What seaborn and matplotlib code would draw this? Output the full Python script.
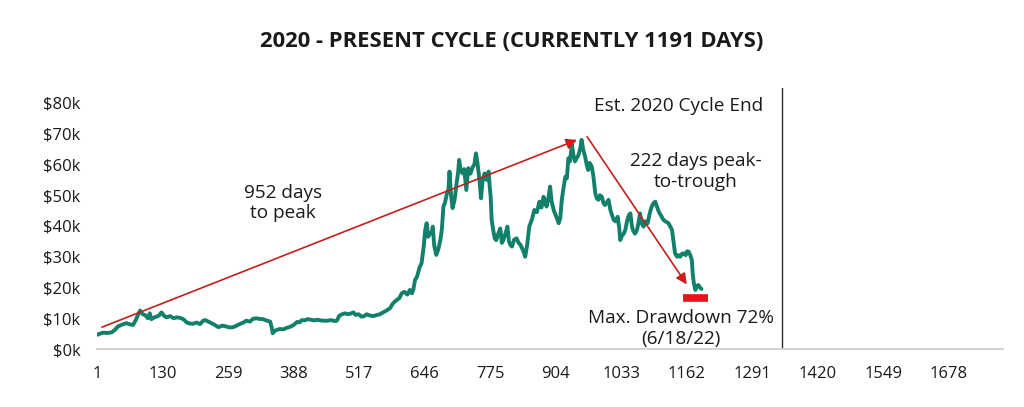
import matplotlib
matplotlib.use("Agg")
import matplotlib.pyplot as plt
import numpy as np
import pandas as pd
import seaborn as sns

# day index since cycle start and BTC price in $k
days = [1, 7, 13, 20, 30, 36, 42, 50, 59, 66, 72, 78, 83, 86, 91, 96, 101, 105, 108, 113,
        118, 123, 128, 133, 138, 145, 152, 158, 165, 171, 178, 184, 190, 197, 204, 210, 214, 219, 224, 232,
        240, 248, 256, 262, 269, 276, 283, 289, 295, 302, 308, 315, 320, 328, 334, 342, 345, 347, 351, 355,
        361, 368, 375, 381, 388, 395, 400, 404, 410, 415, 420, 428, 435, 441, 447, 455, 462, 468, 473, 478,
        482, 489, 495, 500, 506, 510, 516, 522, 527, 532, 538, 545, 551, 558, 564, 571, 578, 584, 590, 596,
        601, 606, 612, 617, 621, 624, 627, 631, 636, 640, 644, 647, 650, 653, 657, 660, 662, 665, 669, 673,
        677, 680, 683, 686, 690, 693, 695, 698, 701, 705, 709, 712, 714, 717, 721, 724, 728, 732, 736, 741,
        744, 747, 750, 754, 757, 760, 764, 768, 772, 774, 776, 778, 781, 784, 787, 791, 795, 798, 801, 805,
        809, 812, 815, 818, 822, 827, 831, 835, 840, 844, 848, 852, 857, 862, 867, 872, 876, 880, 883, 886,
        889, 893, 896, 900, 905, 910, 913, 916, 920, 923, 926, 929, 932, 936, 939, 942, 945, 949, 952, 955,
        958, 962, 965, 968, 971, 975, 978, 982, 985, 988, 991, 995, 998, 1001, 1004, 1008, 1012, 1015, 1018, 1022,
        1026, 1029, 1031, 1035, 1038, 1041, 1045, 1048, 1051, 1054, 1056, 1060, 1064, 1067, 1070, 1073, 1077, 1081, 1085, 1089,
        1093, 1097, 1100, 1104, 1107, 1111, 1116, 1120, 1126, 1129, 1133, 1136, 1139, 1143, 1146, 1149, 1153, 1157, 1160, 1163,
        1166, 1169, 1172, 1174, 1176, 1179, 1182, 1185, 1188, 1191]
price_k = [4.6, 5.0, 5.3, 5.2, 5.4, 6.2, 7.3, 7.9, 8.4, 8.0, 7.8, 9.6, 11.6, 12.5, 11.3, 11.0, 10.0, 11.6, 9.7, 10.2,
           10.5, 10.9, 11.9, 10.8, 10.3, 10.7, 10.0, 10.3, 10.1, 9.7, 8.6, 8.3, 8.2, 8.6, 8.1, 9.2, 9.4, 9.0, 8.6, 7.9,
           7.1, 7.6, 7.3, 7.0, 7.1, 7.6, 8.2, 8.6, 9.2, 8.9, 9.8, 10.0, 9.8, 9.7, 9.3, 8.9, 7.0, 5.1, 5.9, 6.2,
           6.5, 6.4, 6.9, 7.2, 7.8, 8.8, 8.7, 9.4, 9.3, 9.7, 9.6, 9.3, 9.5, 9.3, 9.2, 9.2, 9.4, 9.1, 9.2, 10.8,
           11.2, 11.6, 11.3, 11.5, 11.9, 11.1, 11.3, 10.5, 10.7, 11.3, 10.9, 10.7, 11.0, 11.3, 11.9, 12.5, 13.3, 14.9, 15.8, 16.5,
           18.1, 18.6, 17.7, 19.2, 18.1, 19.5, 22.4, 23.5, 26.5, 27.9, 33.0, 38.5, 40.9, 36.5, 37.6, 38.0, 39.8, 33.5, 30.6, 32.5,
           35.4, 39.0, 46.3, 47.5, 50.6, 52.0, 57.7, 50.0, 45.8, 48.5, 53.9, 57.5, 61.5, 58.0, 57.1, 58.5, 51.7, 58.8, 57.0, 59.3,
           60.0, 63.6, 60.5, 55.0, 49.0, 54.5, 57.1, 55.0, 57.7, 53.0, 49.5, 42.0, 38.7, 36.0, 35.4, 37.5, 39.2, 34.5, 35.4, 37.5,
           39.8, 35.0, 33.8, 33.3, 35.5, 36.0, 34.5, 33.8, 32.0, 30.0, 34.0, 39.8, 42.0, 45.2, 44.5, 47.9, 46.0, 49.5, 48.0, 46.3,
           48.5, 52.8, 48.0, 45.2, 43.0, 40.9, 42.5, 48.5, 53.0, 56.0, 55.5, 62.0, 61.0, 66.5, 63.0, 61.0, 62.0, 63.1, 65.0, 68.0,
           65.0, 62.5, 60.0, 58.2, 60.5, 59.3, 56.5, 50.6, 49.0, 48.5, 50.0, 49.5, 47.5, 46.8, 47.5, 48.5, 45.0, 43.5, 42.0, 41.5,
           43.0, 39.5, 35.4, 37.0, 37.5, 38.7, 42.0, 43.5, 44.1, 40.0, 38.7, 37.5, 38.7, 41.0, 44.1, 41.0, 39.8, 41.5, 40.9, 44.0,
           46.3, 47.5, 47.9, 46.0, 44.6, 43.5, 42.0, 41.5, 40.9, 40.0, 38.7, 35.0, 31.1, 30.0, 30.5, 30.0, 31.0, 31.1, 30.5, 31.8,
           31.6, 30.5, 28.9, 24.0, 21.4, 19.2, 20.5, 20.8, 20.0, 19.5]

x_ticks = [1, 130, 259, 388, 517, 646, 775, 904, 1033, 1162, 1291, 1420, 1549, 1678]
y_ticks = [0, 10, 20, 30, 40, 50, 60, 70, 80]

peak_arrow = [(11, 7.1), (946, 68.0)]
trough_arrow = [(966, 69.0), (1162, 21.0)]
drawdown_bar_days = [1154, 1203]
drawdown_bar_level = 16.5
cycle_end_day = 1350

df = pd.DataFrame({"day": days, "price": price_k})

sns.set_style("white")
plt.rcParams["font.family"] = ["Open Sans", "DejaVu Sans"]

fig = plt.figure(figsize=(10.24, 4.07), dpi=100)
ax = fig.add_axes([0.0947, 0.1425, 0.885, 0.6423])

sns.lineplot(data=df, x="day", y="price", ax=ax, color="#12806a", linewidth=2.8)

ax.set_xlim(1, 1785)
ax.set_ylim(0, 85)

# arrows
arrow_kw = dict(arrowstyle="-|>", edgecolor="#c0201e", facecolor="#e8141b",
                lw=1.2, mutation_scale=16, shrinkA=0, shrinkB=0)
ax.annotate("", xy=peak_arrow[1], xytext=peak_arrow[0], arrowprops=arrow_kw)
ax.annotate("", xy=trough_arrow[1], xytext=trough_arrow[0], arrowprops=arrow_kw)

# max drawdown bar
ax.plot(drawdown_bar_days, [drawdown_bar_level] * 2, color="#e8141b", lw=5.5,
        solid_capstyle="butt")

# est. cycle end
ax.axvline(cycle_end_day, ymin=0, ymax=1, color="#2a2a2a", lw=1.0)

txt = dict(fontsize=13.7, color="#1a1a1a", linespacing=1.2)
ax.text(367, 47.5, "952 days\nto peak", ha="center", va="center", **txt)
ax.text(1313, 79, "Est. 2020 Cycle End", ha="right", va="center", **txt)
ax.text(1179, 57.6, "222 days peak-\nto-trough", ha="center", va="center", **txt)
ax.text(1151, 6.7, "Max. Drawdown 72%\n(6/18/22)", ha="center", va="center", **txt)

ax.set_xticks(x_ticks)
ax.set_yticks(y_ticks)
ax.set_yticklabels([f"${v}k" for v in y_ticks])
ax.tick_params(axis="both", length=0, labelsize=12, colors="#1a1a1a", pad=12)
ax.set_xlabel("")
ax.set_ylabel("")

for s in ["top", "right", "left"]:
    ax.spines[s].set_visible(False)
ax.spines["bottom"].set_color("#d0d0d0")
ax.spines["bottom"].set_linewidth(1.3)

fig.text(0.5, 0.898, "2020 - PRESENT CYCLE (CURRENTLY 1191 DAYS)", ha="center", va="center",
         fontsize=15.8, fontweight="bold", color="#1a1a1a")

fig.savefig("out.png", dpi=100)
